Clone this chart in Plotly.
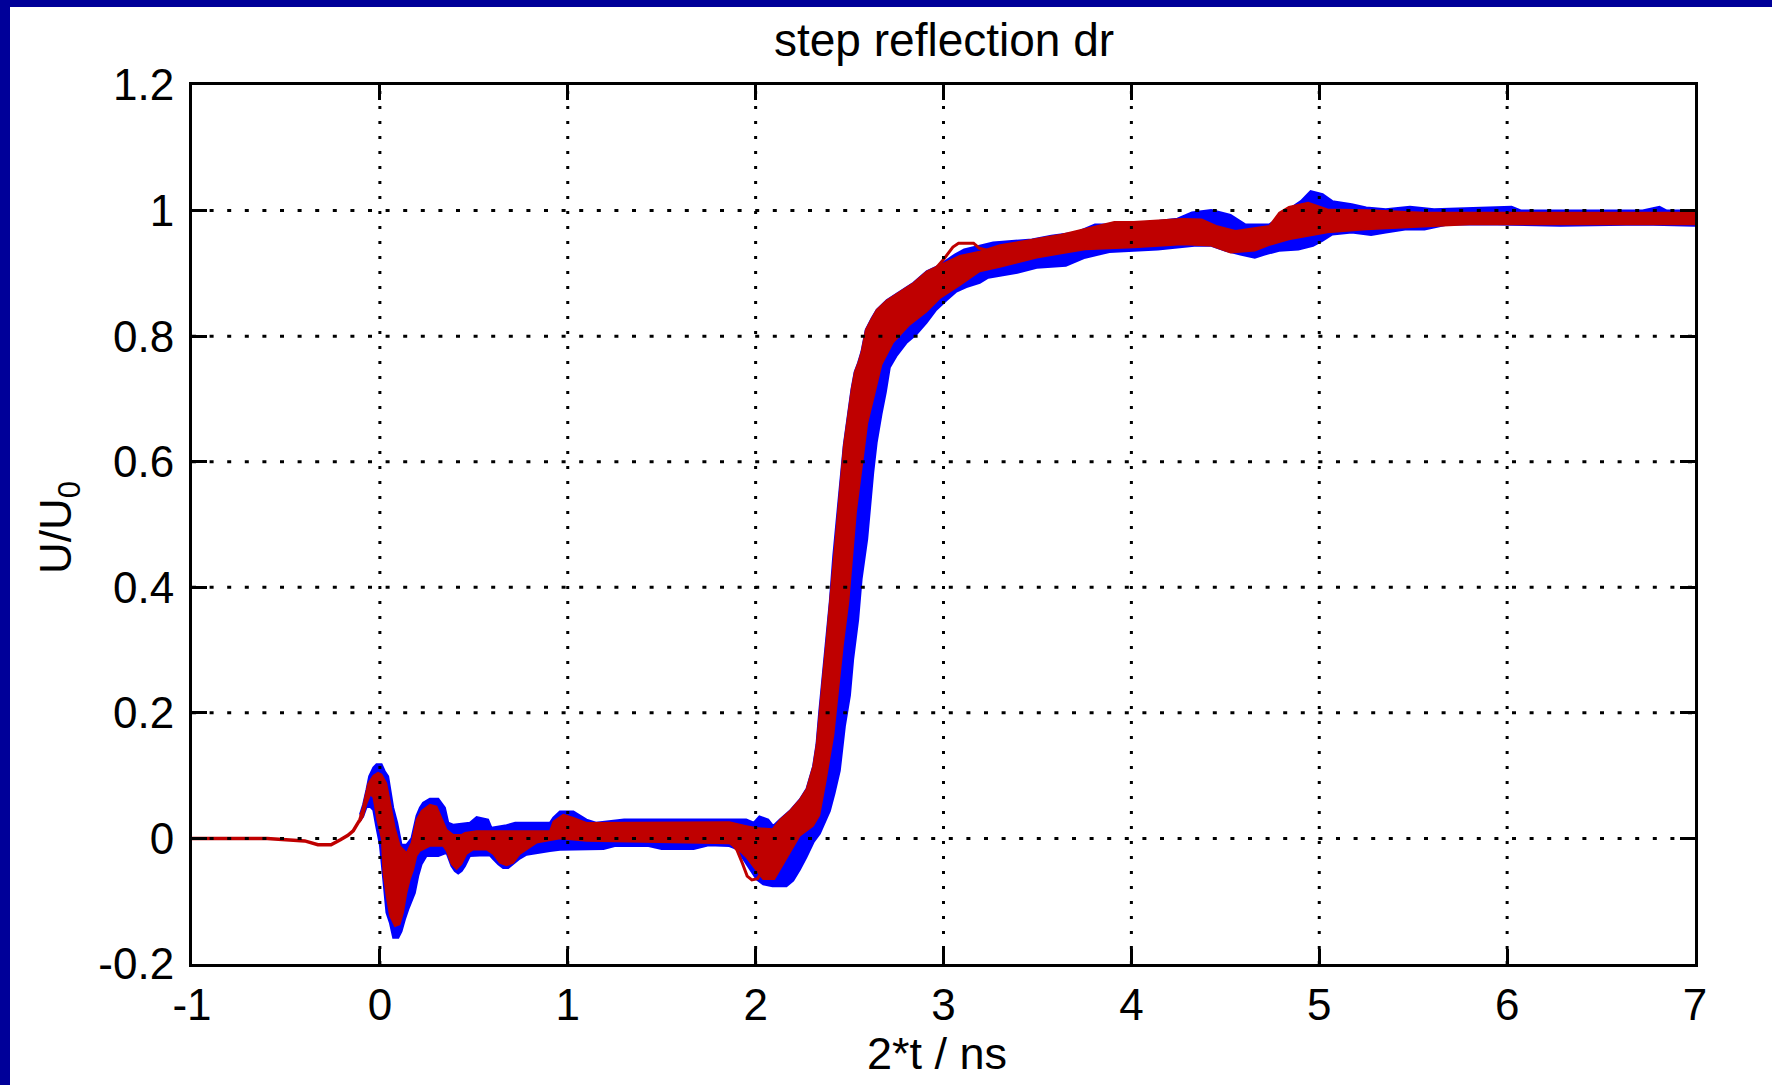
import plotly.graph_objects as go

# ---- axis ticks ----
x_ticks = [-1, 0, 1, 2, 3, 4, 5, 6, 7]
x_tick_text = ["-1", "0", "1", "2", "3", "4", "5", "6", "7"]
y_ticks = [-0.2, 0.0, 0.2, 0.4, 0.6, 0.8, 1.0, 1.2]
y_tick_text = ["-0.2", "0", "0.2", "0.4", "0.6", "0.8", "1", "1.2"]

# ---- blue ensemble: upper / lower envelope of all blue traces ----
blue_upper_x = [-0.106, -0.089, -0.071, -0.057, -0.035, -0.018, 0.009, 0.026, 0.044, 0.071,
                0.092, 0.115, 0.142, 0.168, 0.195, 0.213, 0.23, 0.266, 0.311, 0.346,
                0.364, 0.39, 0.479, 0.497, 0.515, 0.576, 0.594, 0.674, 0.72, 0.905,
                0.923, 0.958, 1.03, 1.1, 1.15, 1.3, 1.95, 1.99, 2.02, 2.067,
                2.093, 2.129, 2.182, 2.235, 2.271, 2.306, 2.324, 2.338, 2.356, 2.377,
                2.395, 2.413, 2.434, 2.452, 2.469, 2.492, 2.51, 2.527, 2.545, 2.563,
                2.586, 2.617, 2.644, 2.697, 2.75, 2.84, 2.91, 2.98, 3.06, 3.11,
                3.264, 3.471, 3.574, 3.703, 3.806, 4.013, 4.154, 4.245, 4.322, 4.425,
                4.477, 4.528, 4.606, 4.735, 4.786, 4.838, 4.902, 4.954, 5.018, 5.07,
                5.173, 5.25, 5.354, 5.483, 5.611, 6.024, 6.076, 6.721, 6.811, 6.85, 7.0]
blue_upper_y = [0.038, 0.054, 0.078, 0.099, 0.113, 0.118, 0.118, 0.107, 0.099, 0.049,
                0.025, -0.01, -0.01, 0.0, 0.036, 0.049, 0.057, 0.063, 0.063, 0.049,
                0.025, 0.022, 0.025, 0.03, 0.034, 0.03, 0.017, 0.021, 0.025, 0.025,
                0.033, 0.043, 0.043, 0.03, 0.025, 0.03, 0.03, 0.025, 0.035, 0.03,
                0.02, 0.03, 0.044, 0.062, 0.079, 0.115, 0.15, 0.2, 0.253, 0.317,
                0.378, 0.449, 0.512, 0.573, 0.626, 0.676, 0.715, 0.743, 0.757, 0.775,
                0.81, 0.828, 0.842, 0.857, 0.867, 0.885, 0.903, 0.913, 0.93, 0.938,
                0.949, 0.954, 0.96, 0.965, 0.978, 0.978, 0.984, 0.987, 0.997, 1.001,
                0.997, 0.993, 0.978, 0.978, 0.989, 1.002, 1.015, 1.031, 1.026, 1.015,
                1.01, 1.005, 1.002, 1.006, 1.002, 1.006, 1.0, 1.0, 1.006, 1.0, 1.0]

blue_lower_x = [-0.106, -0.089, -0.071, -0.05, -0.035, -0.02, 0.0, 0.018, 0.035, 0.053,
                0.071, 0.098, 0.115, 0.133, 0.151, 0.168, 0.186, 0.204, 0.222, 0.248,
                0.311, 0.355, 0.381, 0.399, 0.417, 0.435, 0.453, 0.479, 0.532, 0.585,
                0.603, 0.63, 0.656, 0.683, 0.718, 0.745, 0.781, 0.834, 0.905, 0.958,
                1.19, 1.25, 1.43, 1.5, 1.67, 1.75, 1.86, 1.9, 1.934, 1.97,
                2.005, 2.04, 2.09, 2.164, 2.2, 2.235, 2.27, 2.31, 2.342, 2.395,
                2.42, 2.448, 2.475, 2.502, 2.519, 2.546, 2.564, 2.594, 2.608, 2.626,
                2.644, 2.67, 2.693, 2.714, 2.749, 2.802, 2.856, 2.909, 2.962, 3.016,
                3.069, 3.122, 3.193, 3.238, 3.393, 3.496, 3.651, 3.754, 3.883, 4.013,
                4.141, 4.335, 4.425, 4.502, 4.58, 4.657, 4.709, 4.786, 4.889, 4.967,
                5.018, 5.07, 5.173, 5.276, 5.354, 5.457, 5.56, 5.689, 5.947, 6.283,
                6.721, 7.0]
blue_lower_y = [0.028, 0.035, 0.05, 0.05, 0.045, 0.02, -0.01, -0.065, -0.118, -0.134,
                -0.158, -0.158, -0.148, -0.129, -0.113, -0.1, -0.087, -0.06, -0.041, -0.028,
                -0.028, -0.023, -0.044, -0.052, -0.056, -0.052, -0.044, -0.028, -0.027, -0.027,
                -0.033, -0.041, -0.047, -0.047, -0.039, -0.032, -0.026, -0.023, -0.02, -0.018,
                -0.017, -0.012, -0.012, -0.017, -0.017, -0.011, -0.012, -0.017, -0.033, -0.049,
                -0.065, -0.073, -0.076, -0.076, -0.067, -0.05, -0.03, -0.005, 0.008, 0.044,
                0.072, 0.108, 0.179, 0.228, 0.285, 0.349, 0.413, 0.477, 0.527, 0.583,
                0.63, 0.676, 0.711, 0.75, 0.768, 0.789, 0.803, 0.821, 0.842, 0.857,
                0.871, 0.878, 0.885, 0.893, 0.901, 0.909, 0.912, 0.925, 0.934, 0.936,
                0.938, 0.944, 0.944, 0.936, 0.93, 0.925, 0.93, 0.936, 0.938, 0.944,
                0.952, 0.962, 0.965, 0.961, 0.965, 0.97, 0.97, 0.978, 0.978, 0.976,
                0.978, 0.976]

# ---- red ensemble: upper / lower envelope of all red traces ----
red_upper_x = [-0.106, -0.089, -0.071, -0.057, -0.035, -0.01, 0.009, 0.035, 0.062, 0.08,
               0.107, 0.142, 0.168, 0.195, 0.222, 0.266, 0.302, 0.328, 0.355, 0.39,
               0.435, 0.453, 0.515, 0.905, 0.923, 0.976, 1.03, 1.1, 1.86, 1.95,
               2.0, 2.09, 2.13, 2.182, 2.235, 2.271, 2.306, 2.324, 2.338, 2.356,
               2.377, 2.395, 2.413, 2.434, 2.452, 2.469, 2.492, 2.51, 2.527, 2.545,
               2.563, 2.586, 2.617, 2.644, 2.697, 2.75, 2.84, 2.91, 2.98, 3.086,
               3.193, 3.3, 3.627, 3.909, 4.013, 4.271, 4.374, 4.451, 4.554, 4.735,
               4.786, 4.838, 4.941, 5.044, 5.25, 5.56, 7.0]
red_upper_y = [0.036, 0.05, 0.072, 0.09, 0.1, 0.105, 0.102, 0.088, 0.046, 0.017,
               -0.012, -0.023, -0.007, 0.03, 0.044, 0.054, 0.051, 0.033, 0.014, 0.006,
               0.006, 0.009, 0.012, 0.012, 0.027, 0.038, 0.033, 0.025, 0.026, 0.02,
               0.017, 0.015, 0.03, 0.044, 0.062, 0.079, 0.115, 0.15, 0.2, 0.253,
               0.317, 0.378, 0.449, 0.512, 0.573, 0.626, 0.676, 0.715, 0.743, 0.757,
               0.775, 0.81, 0.828, 0.842, 0.857, 0.867, 0.885, 0.903, 0.913, 0.928,
               0.935, 0.945, 0.962, 0.982, 0.982, 0.987, 0.986, 0.976, 0.968, 0.976,
               0.997, 1.006, 1.013, 1.002, 1.001, 0.997, 0.997]

red_lower_x = [-0.106, -0.089, -0.071, -0.05, -0.035, -0.015, 0.009, 0.018, 0.035, 0.053,
               0.08, 0.106, 0.124, 0.142, 0.16, 0.178, 0.195, 0.213, 0.266, 0.337,
               0.355, 0.381, 0.408, 0.435, 0.461, 0.497, 0.567, 0.603, 0.638, 0.674,
               0.71, 0.745, 0.781, 0.834, 0.96, 1.1, 1.86, 1.915, 1.95, 2.0,
               2.04, 2.1, 2.129, 2.182, 2.235, 2.306, 2.34, 2.375, 2.415, 2.44,
               2.465, 2.495, 2.515, 2.535, 2.565, 2.595, 2.63, 2.67, 2.73, 2.82,
               2.91, 2.98, 3.086, 3.193, 3.3, 3.496, 3.754, 4.013, 4.271, 4.425,
               4.528, 4.657, 4.735, 4.838, 5.044, 5.25, 5.56, 5.8, 7.0]
red_lower_y = [0.026, 0.035, 0.055, 0.07, 0.065, 0.03, 0.0, -0.054, -0.092, -0.123,
               -0.14, -0.137, -0.118, -0.087, -0.065, -0.05, -0.028, -0.02, -0.012, -0.012,
               -0.02, -0.041, -0.049, -0.041, -0.025, -0.018, -0.018, -0.025, -0.039, -0.043,
               -0.039, -0.025, -0.018, -0.007, 0.0, -0.004, -0.008, -0.02, -0.03, -0.05,
               -0.065, -0.065, -0.049, -0.023, 0.004, 0.02, 0.037, 0.094, 0.165, 0.236,
               0.307, 0.378, 0.449, 0.52, 0.59, 0.661, 0.704, 0.754, 0.789, 0.818,
               0.839, 0.86, 0.881, 0.903, 0.91, 0.925, 0.938, 0.941, 0.946, 0.944,
               0.933, 0.936, 0.945, 0.954, 0.965, 0.97, 0.975, 0.978, 0.978]

# ---- single red trace before the step arrives ----
red_tail_x = [-1.0, -0.6, -0.5, -0.4, -0.33, -0.26, -0.21, -0.17, -0.142, -0.106,
              -0.089, -0.071, -0.057]
red_tail_y = [0.0, 0.0, -0.002, -0.004, -0.01, -0.01, -0.002, 0.005, 0.012, 0.03,
              0.045, 0.068, 0.088]

# ---- red outlier trace leaving the bundle (dip before the step, overshoot after) ----
red_outlier_x = [1.85, 1.9, 1.93, 1.955, 1.98, 2.01, 2.04, None,
                 2.95, 3.0, 3.05, 3.08, 3.16, 3.19, 3.24]
red_outlier_y = [0.002, -0.018, -0.04, -0.06, -0.066, -0.064, -0.05, None,
                 0.905, 0.922, 0.942, 0.948, 0.948, 0.94, 0.936]

BLUE = "#0000FF"
RED = "#BF0000"
NAVY = "#000099"
FONT = "Liberation Sans, Arial, sans-serif"

W, H = 1772, 1085
ML, MR, MT, MB = 192, 77, 85, 121
PW, PH = W - ML - MR, H - MT - MB

fig = go.Figure()

# blue band: upper edge forward, lower edge back
fig.add_trace(go.Scatter(
    x=blue_upper_x + blue_lower_x[::-1],
    y=blue_upper_y + blue_lower_y[::-1],
    mode="lines", fill="toself", fillcolor=BLUE,
    line=dict(color=BLUE, width=2), hoverinfo="skip", showlegend=False))

# red band
fig.add_trace(go.Scatter(
    x=red_upper_x + red_lower_x[::-1],
    y=red_upper_y + red_lower_y[::-1],
    mode="lines", fill="toself", fillcolor=RED,
    line=dict(color=RED, width=1.5), hoverinfo="skip", showlegend=False))

fig.add_trace(go.Scatter(
    x=red_tail_x, y=red_tail_y, mode="lines",
    line=dict(color=RED, width=3.5), hoverinfo="skip", showlegend=False))

fig.add_trace(go.Scatter(
    x=red_outlier_x, y=red_outlier_y, mode="lines", connectgaps=False,
    line=dict(color=RED, width=3), hoverinfo="skip", showlegend=False))

shapes = []
# dotted grid, drawn over the data
for xv in x_ticks[1:-1]:
    shapes.append(dict(type="line", xref="x", yref="y", x0=xv, x1=xv,
                       y0=y_ticks[0], y1=y_ticks[-1], layer="above",
                       line=dict(color="black", width=3, dash="3px,12px")))
for yv in y_ticks[1:-1]:
    shapes.append(dict(type="line", xref="x", yref="y", x0=x_ticks[0], x1=x_ticks[-1],
                       y0=yv, y1=yv, layer="above",
                       line=dict(color="black", width=3, dash="4px,13.6px")))

# navy frame strips along the left and top edges of the page
shapes.append(dict(type="rect", xref="paper", yref="paper", layer="above",
                   x0=-ML / PW, x1=(10 - ML) / PW, y0=-MB / PH, y1=(H - MB) / PH,
                   fillcolor=NAVY, line=dict(width=0)))
shapes.append(dict(type="rect", xref="paper", yref="paper", layer="above",
                   x0=-ML / PW, x1=(W - ML) / PW, y0=(H - MB - 7) / PH, y1=(H - MB) / PH,
                   fillcolor=NAVY, line=dict(width=0)))

axis_common = dict(
    showline=True, linecolor="black", linewidth=3, mirror="ticks",
    ticks="inside", ticklen=15, tickwidth=3, tickcolor="black",
    showgrid=False, zeroline=False, layer="above traces",
    tickfont=dict(family=FONT, size=44, color="black"),
)

fig.update_layout(
    width=W, height=H, autosize=False,
    margin=dict(l=ML, r=MR, t=MT, b=MB, pad=0),
    paper_bgcolor="white", plot_bgcolor="white",
    xaxis=dict(range=[x_ticks[0], x_ticks[-1]], tickmode="array",
               tickvals=x_ticks, ticktext=x_tick_text, **axis_common),
    yaxis=dict(range=[y_ticks[0], y_ticks[-1]], tickmode="array",
               tickvals=y_ticks, ticktext=y_tick_text, ticklabelstandoff=6,
               **axis_common),
    shapes=shapes,
    annotations=[
        dict(text="step reflection dr", xref="paper", yref="paper",
             x=0.5, y=(H - MB - 40) / PH, xanchor="center", yanchor="middle",
             showarrow=False, font=dict(family=FONT, size=46, color="black")),
        dict(text="2*t / ns", xref="paper", yref="paper",
             x=(937 - ML) / PW, y=(H - MB - 1053) / PH, xanchor="center", yanchor="middle",
             showarrow=False, font=dict(family=FONT, size=45, color="black")),
        dict(text="U/U<sub>0</sub>", xref="paper", yref="paper",
             x=(59 - ML) / PW, y=(H - MB - 528) / PH, xanchor="center", yanchor="middle",
             textangle=-90, showarrow=False,
             font=dict(family=FONT, size=44, color="black")),
    ],
)

fig.write_html("out.html")
